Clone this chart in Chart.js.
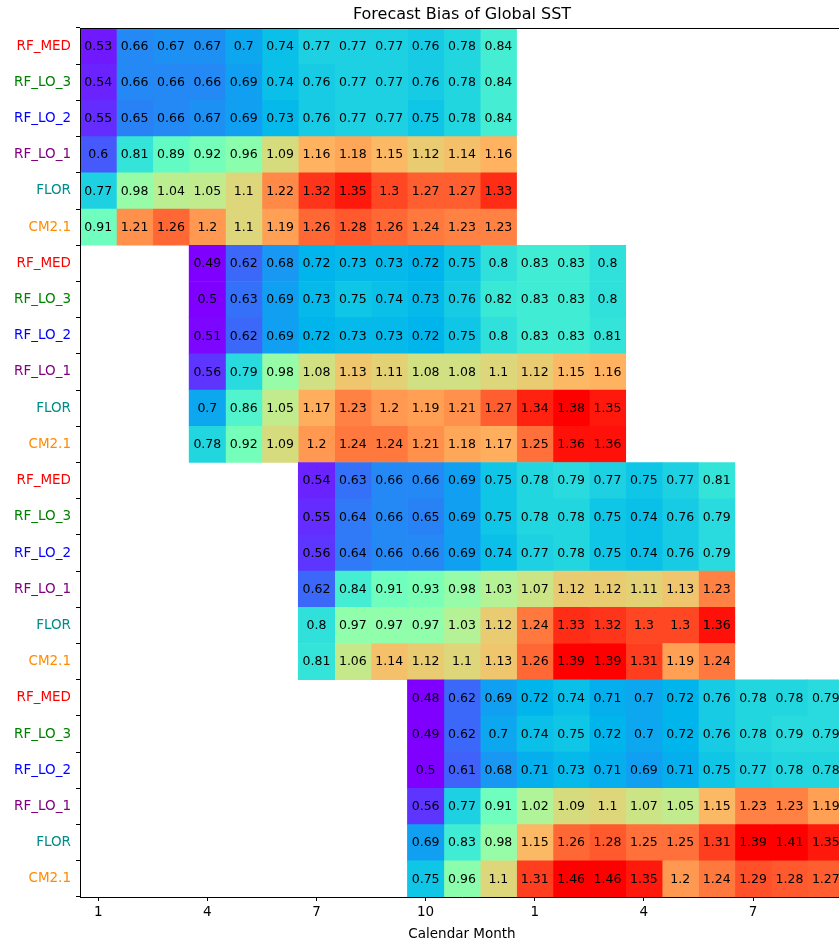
<!DOCTYPE html>
<html>
<head>
<meta charset="utf-8">
<script src="https://cdn.jsdelivr.net/npm/chart.js@4.4.1/dist/chart.umd.min.js"></script>
<style>
html,body{margin:0;padding:0;background:#ffffff;overflow:hidden;width:839px;height:944px}
canvas{display:block}
</style>
</head>
<body>
<canvas id="c" width="924" height="944"></canvas>
<script>
// ---------------- data ----------------
const models = ['RF_MED', 'RF_LO_3', 'RF_LO_2', 'RF_LO_1', 'FLOR', 'CM2.1'];
const initStartColumn = [0, 3, 6, 9]; // Jan, Apr, Jul, Oct initialisations

const janInit = [
  [0.53, 0.66, 0.67, 0.67, 0.7, 0.74, 0.77, 0.77, 0.77, 0.76, 0.78, 0.84],
  [0.54, 0.66, 0.66, 0.66, 0.69, 0.74, 0.76, 0.77, 0.77, 0.76, 0.78, 0.84],
  [0.55, 0.65, 0.66, 0.67, 0.69, 0.73, 0.76, 0.77, 0.77, 0.75, 0.78, 0.84],
  [0.6, 0.81, 0.89, 0.92, 0.96, 1.09, 1.16, 1.18, 1.15, 1.12, 1.14, 1.16],
  [0.77, 0.98, 1.04, 1.05, 1.1, 1.22, 1.32, 1.35, 1.3, 1.27, 1.27, 1.33],
  [0.91, 1.21, 1.26, 1.2, 1.1, 1.19, 1.26, 1.28, 1.26, 1.24, 1.23, 1.23]
];
const aprInit = [
  [0.49, 0.62, 0.68, 0.72, 0.73, 0.73, 0.72, 0.75, 0.8, 0.83, 0.83, 0.8],
  [0.5, 0.63, 0.69, 0.73, 0.75, 0.74, 0.73, 0.76, 0.82, 0.83, 0.83, 0.8],
  [0.51, 0.62, 0.69, 0.72, 0.73, 0.73, 0.72, 0.75, 0.8, 0.83, 0.83, 0.81],
  [0.56, 0.79, 0.98, 1.08, 1.13, 1.11, 1.08, 1.08, 1.1, 1.12, 1.15, 1.16],
  [0.7, 0.86, 1.05, 1.17, 1.23, 1.2, 1.19, 1.21, 1.27, 1.34, 1.38, 1.35],
  [0.78, 0.92, 1.09, 1.2, 1.24, 1.24, 1.21, 1.18, 1.17, 1.25, 1.36, 1.36]
];
const julInit = [
  [0.54, 0.63, 0.66, 0.66, 0.69, 0.75, 0.78, 0.79, 0.77, 0.75, 0.77, 0.81],
  [0.55, 0.64, 0.66, 0.65, 0.69, 0.75, 0.78, 0.78, 0.75, 0.74, 0.76, 0.79],
  [0.56, 0.64, 0.66, 0.66, 0.69, 0.74, 0.77, 0.78, 0.75, 0.74, 0.76, 0.79],
  [0.62, 0.84, 0.91, 0.93, 0.98, 1.03, 1.07, 1.12, 1.12, 1.11, 1.13, 1.23],
  [0.8, 0.97, 0.97, 0.97, 1.03, 1.12, 1.24, 1.33, 1.32, 1.3, 1.3, 1.36],
  [0.81, 1.06, 1.14, 1.12, 1.1, 1.13, 1.26, 1.39, 1.39, 1.31, 1.19, 1.24]
];
const octInit = [
  [0.48, 0.62, 0.69, 0.72, 0.74, 0.71, 0.7, 0.72, 0.76, 0.78, 0.78, 0.79],
  [0.49, 0.62, 0.7, 0.74, 0.75, 0.72, 0.7, 0.72, 0.76, 0.78, 0.79, 0.79],
  [0.5, 0.61, 0.68, 0.71, 0.73, 0.71, 0.69, 0.71, 0.75, 0.77, 0.78, 0.78],
  [0.56, 0.77, 0.91, 1.02, 1.09, 1.1, 1.07, 1.05, 1.15, 1.23, 1.23, 1.19],
  [0.69, 0.83, 0.98, 1.15, 1.26, 1.28, 1.25, 1.25, 1.31, 1.39, 1.41, 1.35],
  [0.75, 0.96, 1.1, 1.31, 1.46, 1.46, 1.35, 1.2, 1.24, 1.29, 1.28, 1.27]
];

const xTickColumns = [0, 3, 6, 9, 12, 15, 18];
const xTickLabels = ['1', '4', '7', '10', '1', '4', '7'];

// ---------------- styles ----------------
const modelLabelColors = ['#ff0000', '#008000', '#0000ff', '#800080', '#008b8b', '#ff8c00'];
const FONT = "'DejaVu Sans', sans-serif";
const colorMin = 0.5, colorMax = 1.38; // colour-scale limits (robust range)

// ---------------- build rows ----------------
const groups = [janInit, aprInit, julInit, octInit];
const rowLabels = [], rowValues = [], rowStart = [], rowColors = [];
groups.forEach((g, gi) => {
  g.forEach((vals, mi) => {
    rowLabels.push(models[mi]);
    rowValues.push(vals);
    rowStart.push(initStartColumn[gi]);
    rowColors.push(modelLabelColors[mi]);
  });
});

function rainbow(v) {
  let x = (v - colorMin) / (colorMax - colorMin);
  x = Math.max(0, Math.min(1, x));
  const i = Math.min(255, Math.floor(x * 256));
  x = i / 255;
  const clip = t => Math.max(0, Math.min(1, t));
  const r = clip(Math.abs(2 * x - 0.5));
  const g = clip(Math.sin(Math.PI * x));
  const b = clip(Math.cos(Math.PI / 2 * x));
  return `rgb(${Math.round(r * 255)},${Math.round(g * 255)},${Math.round(b * 255)})`;
}

const nLead = 12;
const datasets = [];
for (let k = 0; k < nLead; k++) {
  datasets.push({
    data: rowStart.map(s => [s + k - 0.5, s + k + 0.5]),
    values: rowValues.map(r => r[k]),
    backgroundColor: ctx => rainbow(rowValues[ctx.dataIndex][k]),
    borderWidth: 0,
    grouped: false,
    barPercentage: 1,
    categoryPercentage: 1
  });
}

const cellText = {
  id: 'cellText',
  afterDatasetsDraw(chart) {
    const ctx = chart.ctx;
    ctx.save();
    ctx.font = `12.5px ${FONT}`;
    ctx.fillStyle = '#000';
    ctx.textAlign = 'center';
    ctx.textBaseline = 'middle';
    chart.data.datasets.forEach((ds, i) => {
      const meta = chart.getDatasetMeta(i);
      meta.data.forEach((el, j) => {
        const p = el.getProps(['x', 'y', 'base'], true);
        ctx.fillText(String(ds.values[j]), (p.x + p.base) / 2, p.y + 0.5);
      });
    });
    ctx.restore();
  }
};

const frame = {
  id: 'frame',
  afterDraw(chart) {
    const {ctx, chartArea: a} = chart;
    ctx.save();
    ctx.strokeStyle = '#000';
    ctx.lineWidth = 1;
    ctx.beginPath();
    ctx.moveTo(a.left, Math.round(a.top) + 0.5);
    ctx.lineTo(a.right, Math.round(a.top) + 0.5);
    ctx.moveTo(Math.round(a.right) - 0.5, a.top);
    ctx.lineTo(Math.round(a.right) - 0.5, a.bottom);
    ctx.stroke();
    ctx.restore();
  }
};

new Chart(document.getElementById('c'), {
  type: 'bar',
  data: { labels: rowLabels, datasets },
  plugins: [cellText, frame],
  options: {
    responsive: false,
    animation: false,
    indexAxis: 'y',
    layout: { padding: 0 },
    plugins: {
      legend: { display: false },
      tooltip: { enabled: false },
      title: {
        display: true,
        text: 'Forecast Bias of Global SST',
        color: '#000',
        font: { family: FONT, size: 16, weight: 'normal' },
        padding: { top: 5, bottom: 3.8 }
      }
    },
    scales: {
      x: {
        type: 'linear',
        min: -0.5,
        max: 20.5,
        afterBuildTicks: s => { s.ticks = xTickColumns.map(v => ({ value: v })); },
        afterFit: s => { s.height = 47; },
        ticks: {
          color: '#000',
          padding: 3,
          font: { family: FONT, size: 13.5 },
          callback: (v, i) => xTickLabels[i]
        },
        grid: { display: true, drawOnChartArea: false, drawTicks: true, tickLength: 4, tickColor: '#000' },
        border: { display: true, color: '#000', width: 1, z: 1 },
        title: {
          display: true,
          text: 'Calendar Month',
          color: '#000',
          font: { family: FONT, size: 13.5 },
          padding: { top: 0, bottom: 1 }
        }
      },
      y: {
        type: 'category',
        afterFit: s => { s.width = 80; },
        ticks: {
          color: ctx => rowColors[ctx.index],
          padding: 5,
          font: { family: FONT, size: 13.5 }
        },
        grid: { display: true, drawOnChartArea: false, drawTicks: true, tickLength: 4, tickColor: '#000' },
        border: { display: true, color: '#000', width: 1, z: 1 }
      },
      yRight: {
        type: 'linear',
        position: 'right',
        display: true,
        afterFit: s => { s.width = 80; },
        ticks: { display: false },
        grid: { display: false },
        border: { display: false }
      }
    }
  }
});
</script>
</body>
</html>
